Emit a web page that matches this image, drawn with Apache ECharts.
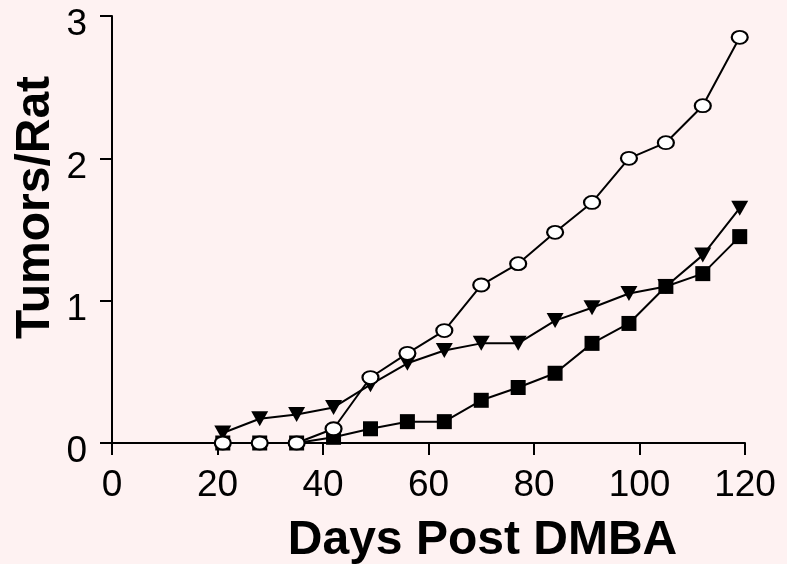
<!DOCTYPE html>
<html>
<head>
<meta charset="utf-8">
<script src="https://cdn.jsdelivr.net/npm/echarts@6/dist/echarts.min.js"></script>
<style>
  html, body { margin: 0; padding: 0; background: #fef2f2; }
  #chart { width: 787px; height: 564px; }
</style>
</head>
<body>
<div id="chart"></div>
<script>
// days after DMBA
var days = [21, 28, 35, 42, 49, 56, 63, 70, 77, 84, 91, 98, 105, 112, 119];
// tumors per rat, one array per group
var openCircles = [0, 0, 0, 0.1, 0.46, 0.63, 0.79, 1.11, 1.26, 1.48, 1.69, 2.0, 2.11, 2.37, 2.85];
var triangles = [0.07, 0.17, 0.2, 0.25, 0.41, 0.56, 0.65, 0.7, 0.7, 0.86, 0.95, 1.05, 1.1, 1.32, 1.65];
var squares = [0, 0, 0, 0.04, 0.1, 0.15, 0.15, 0.3, 0.39, 0.49, 0.7, 0.84, 1.1, 1.19, 1.45];

function pairs(vals) {
    return days.map(function (d, i) { return [d, vals[i]]; });
}

var myChart = echarts.init(document.getElementById('chart'));

var font = 'Liberation Sans, Arial, sans-serif';
var lineStyle = { color: '#000', width: 2 };

var option = {
    backgroundColor: '#fef2f2',
    animation: false,
    grid: {
        left: 112,
        right: 42,
        top: 16,
        bottom: 121,
        containLabel: false,
        outerBoundsMode: 'none'
    },
    xAxis: {
        type: 'value',
        min: 0,
        max: 120,
        interval: 20,
        name: 'Days Post DMBA',
        nameLocation: 'middle',
        nameGap: 74,
        nameMoveOverlap: false,
        nameTextStyle: {
            fontFamily: font,
            fontWeight: 'bold',
            fontSize: 48,
            color: '#000',
            padding: [0, 0, 0, 108]
        },
        axisLine: { lineStyle: { color: '#000', width: 2 } },
        axisTick: { inside: false, length: 12, lineStyle: { color: '#000', width: 2 } },
        axisLabel: { fontFamily: font, fontSize: 37, color: '#000', margin: 24 },
        splitLine: { show: false }
    },
    yAxis: {
        type: 'value',
        min: 0,
        max: 3,
        interval: 1,
        name: 'Tumors/Rat',
        nameLocation: 'middle',
        nameGap: 52,
        nameMoveOverlap: false,
        nameTextStyle: {
            fontFamily: font,
            fontWeight: 'bold',
            fontSize: 48,
            color: '#000',
            padding: [0, 0, 0, 44]
        },
        axisLine: { show: true, lineStyle: { color: '#000', width: 2 } },
        axisTick: { show: true, inside: false, length: 12, lineStyle: { color: '#000', width: 2 } },
        axisLabel: {
            fontFamily: font, fontSize: 37, color: '#000', margin: 25,
            verticalAlign: 'top', lineHeight: 18
        },
        splitLine: { show: false }
    },
    series: [
        {
            name: 'triangles',
            type: 'line',
            data: pairs(triangles),
            symbol: 'triangle',
            symbolRotate: 180,
            symbolSize: [17, 15],
            itemStyle: { color: '#000', borderColor: '#000', borderWidth: 0 },
            lineStyle: lineStyle,
            z: 2
        },
        {
            name: 'squares',
            type: 'line',
            data: pairs(squares),
            symbol: 'rect',
            symbolSize: 15,
            itemStyle: { color: '#000', borderColor: '#000', borderWidth: 0 },
            lineStyle: lineStyle,
            z: 3
        },
        {
            name: 'circles',
            type: 'line',
            data: pairs(openCircles),
            symbol: 'circle',
            symbolSize: [16, 13],
            itemStyle: { color: '#fff', borderColor: '#000', borderWidth: 2 },
            lineStyle: lineStyle,
            z: 4
        }
    ]
};
myChart.setOption(option);
</script>
</body>
</html>
